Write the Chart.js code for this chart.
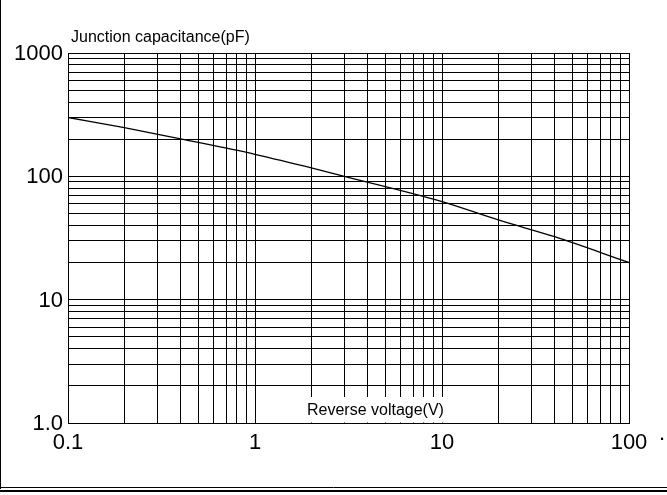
<!DOCTYPE html>
<html>
<head>
<meta charset="utf-8">
<script src="https://cdn.jsdelivr.net/npm/chart.js@4"></script>
<style>
  html, body { margin: 0; padding: 0; background: #fff; }
  #wrap { width: 667px; height: 495px; position: relative; }
</style>
</head>
<body>
<div id="wrap"><canvas id="c" width="667" height="495"></canvas></div>
<script>
// ---- data ----
const voltage = [0.1, 0.2, 0.4, 1, 2, 3, 10, 20, 40, 100];
const capacitance = [300, 248, 201, 151, 117, 100, 62.4, 44.3, 32.4, 20];

const xDecades = [0.1, 1, 10, 100];
const xTickLabels = ['0.1', '1', '10', '100'];
const yDecades = [1, 10, 100, 1000];
const yTickLabels = ['1.0', '10', '100', '1000'];

const yTitle = 'Junction capacitance(pF)';
const xTitle = 'Reverse voltage(V)';

function logTicks(decades) {
  const out = [];
  for (let i = 0; i < decades.length - 1; i++) {
    for (let m = 1; m <= 9; m++) out.push(+(decades[i] * m).toPrecision(6));
  }
  out.push(decades[decades.length - 1]);
  return out;
}

function labelFor(value, decades, labels) {
  for (let i = 0; i < decades.length; i++) {
    if (Math.abs(value - decades[i]) / decades[i] < 1e-6) return labels[i];
  }
  return '';
}

const FONT = "'Liberation Sans', Arial, sans-serif";

const decor = {
  id: 'decor',
  afterDatasetsDraw(chart) {
    const ctx = chart.ctx;
    const a = chart.chartArea;
    ctx.save();
    // white box behind x-axis title inside the plot
    ctx.font = '16px ' + FONT;
    const w = ctx.measureText(xTitle).width;
    const tx = 307;
    ctx.fillStyle = '#fff';
    ctx.fillRect(tx - 3, 397, w + 6, a.bottom - 397 - 0.5);
    ctx.fillStyle = '#000';
    ctx.textBaseline = 'alphabetic';
    ctx.textAlign = 'left';
    ctx.fillText(xTitle, tx, 415);
    // y title above the plot
    ctx.fillText(yTitle, a.left + 3, 42);
    // small dot after last x label
    ctx.font = '22px ' + FONT;
    ctx.fillText('.', 659, 440);
    // frame decorations
    ctx.strokeStyle = '#000';
    ctx.lineWidth = 1;
    ctx.beginPath();
    ctx.moveTo(0.5, 0);
    ctx.lineTo(0.5, 489);
    ctx.stroke();
    ctx.beginPath();
    ctx.moveTo(0, 487.5);
    ctx.lineTo(667, 487.5);
    ctx.stroke();
    ctx.lineWidth = 2;
    ctx.beginPath();
    ctx.moveTo(0, 491);
    ctx.lineTo(667, 491);
    ctx.stroke();
    ctx.restore();
  }
};

new Chart(document.getElementById('c'), {
  type: 'line',
  data: {
    datasets: [{
      data: voltage.map((v, i) => ({ x: v, y: capacitance[i] })),
      borderColor: '#000',
      borderWidth: 1.3,
      pointRadius: 0,
      fill: false,
      cubicInterpolationMode: 'monotone'
    }]
  },
  options: {
    responsive: false,
    animation: false,
    devicePixelRatio: 1,
    layout: { padding: { left: 0, right: 38, top: 53, bottom: 0 } },
    plugins: { legend: { display: false }, tooltip: { enabled: false }, title: { display: false } },
    scales: {
      x: {
        type: 'logarithmic',
        min: 0.1,
        max: 100,
        afterFit(s) { s.height = 72; },
        afterBuildTicks(s) { s.ticks = logTicks(xDecades).map(v => ({ value: v })); },
        ticks: {
          autoSkip: false,
          maxRotation: 0,
          minRotation: 0,
          padding: 7,
          color: '#000',
          font: { family: FONT, size: 22 },
          callback: (v) => labelFor(v, xDecades, xTickLabels)
        },
        grid: { color: '#000', lineWidth: 1, drawTicks: false },
        border: { color: '#000', width: 1 }
      },
      y: {
        type: 'logarithmic',
        min: 1,
        max: 1000,
        afterFit(s) { s.width = 68; },
        afterBuildTicks(s) { s.ticks = logTicks(yDecades).map(v => ({ value: v })); },
        ticks: {
          autoSkip: false,
          padding: 5,
          labelOffset: 1,
          color: '#000',
          font: { family: FONT, size: 22 },
          callback: (v) => labelFor(v, yDecades, yTickLabels)
        },
        grid: { color: '#000', lineWidth: 1, drawTicks: false },
        border: { color: '#000', width: 1 }
      }
    }
  },
  plugins: [decor]
});
</script>
</body>
</html>
